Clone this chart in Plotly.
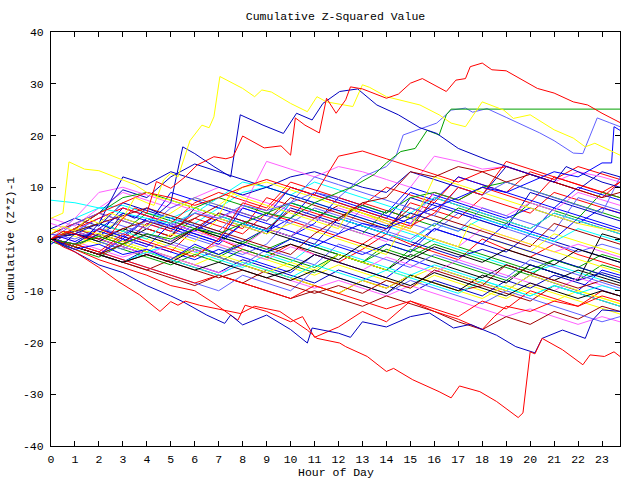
import plotly.graph_objects as go

# ---------------- data ----------------
hours = list(range(24)) + [23.75]

palette = {
    "red": "#ff0000", "dkblue": "#0000c0", "blue": "#0000ff", "green": "#00a000",
    "yellow": "#ffff00", "magenta": "#ff60ff", "cyan": "#00ffff", "dkred": "#a00000",
    "slate": "#6060ff", "black": "#000000",
}

bg_colors = (
    ["red", "dkblue", "blue", "green", "yellow", "magenta", "cyan", "dkred", "slate", "black"] * 4
    + ["red", "dkblue", "blue", "green", "cyan", "magenta", "yellow", "dkred", "slate", "red", "dkblue", "red", "dkred"]
)

bg_values = [
    [0,-1.5,-3,0.5,-1,-2.5,2,0,-2,-3.5,-1,-3,-4.5,-2,1,-1,-2.5,-4,0,-2,-3.5,-1,-3,-4.5,-5.5],
    [1,3,1.5,0,4,2.5,1,-0.5,3,1.5,6,4.5,3,1.5,0,-1.5,2,0.5,-1,-2.5,1,-0.5,-2,-3.5,-4.5],
    [0,-1,2,0.5,-1,-2.5,-4,-2,-3.5,-5,-6.5,-3,-4.5,-6,-7.5,-4,-5.5,-7,-8.5,-10,-7,-8.5,-10,-6,-7],
    [-0.5,-2,-3.5,-1,-2.5,-4,-2,-3.5,-1,-2.5,-4,-5.5,-3,-4.5,-1,-2.5,0,-1.5,-3,-4.5,-6,-4,-5.5,-7,-8],
    [2,0.5,-1,1.5,0,-1.5,-3,-1,-2.5,-4,-5.5,-7,-5,-6.5,-8,-9.5,-7,-8.5,-10,-11.5,-9,-10.5,-12,-13.5,-14.5],
    [4,2.5,6,9,7.5,6,8,10,8.5,7,5.5,4,6,4.5,3,1.5,0,-1.5,2,0.5,-1,-2.5,-1,-2.5,-3.5],
    [7.5,7,6,6.5,5,4,3,6,9,10,8.5,7,5.5,4,2.5,1,-0.5,-2,-3.5,-5,-6.5,-5,-6.5,-8,-9],
    [0,-1.5,-3,-4.5,-6,-4,-5.5,-7,-8.5,-6,-7.5,-9,-10.5,-8,-9.5,-7,-8.5,-10,-9,-10.5,-12,-9,-10.5,-12,-13],
    [0,1.5,0,-1.5,3,1.5,0,-1.5,-3,-1,4,2.5,1,6,4.5,3,1.5,5,3.5,2,0.5,-1,-2.5,-1,-2],
    [0,-1.5,1,-0.5,2,0.5,6,4.5,3,1.5,0,-1.5,-3,-4.5,-6,-3,-4.5,-6,-7.5,-5,-6.5,-8,-6,-7.5,-8.5],

    [1,3,5,3.5,2,0.5,4,2.5,1,5,3.5,2,0.5,-1,2,7,5.5,4,8,6.5,5,9,7.5,6,5],
    [0,-1.5,-3,-4.5,-2,-3.5,-5,-6.5,-4,-5.5,-7,-8.5,-6,-7.5,-9,-10.5,-8,-9.5,-11,-8,-9.5,-7,-8.5,-10,-11],
    [-1,2,0.5,4,2.5,9,7.5,6,4.5,3,1.5,0,-1.5,-3,-1,-2.5,2,0.5,-1,3,1.5,0,4,2.5,1.5],
    [0,1,-0.5,-2,-3.5,-5,-3,-4.5,-2,-3.5,-5,-6.5,-3,-4.5,-6,-2,-3.5,-5,-6.5,-8,-5,-6.5,-8,-5,-6],
    [0,-1.5,1,-0.5,-2,-3.5,-5,-3,-4.5,-6,-7.5,-9,-10.5,-8,-9.5,-7,-8.5,-10,-11.5,-9,-10.5,-12,-10,-11.5,-12.5],
    [1,-0.5,-2,-3.5,-2,-3.5,-5,-6.5,-5,-6.5,-8,-9.5,-8,-9.5,-11,-9,-10.5,-12,-13.5,-15,-13.5,-15,-16.5,-15,-16],
    [0,2,0.5,-1,-2.5,-1,-2.5,-4,-5.5,-3,-4.5,-1,-2.5,-4,-5.5,-7,-5,-6.5,-8,-9.5,-11,-9,-10.5,-12,-13],
    [0,-1.5,-3,-4.5,-6,-7.5,-9,-7,-8.5,-10,-11.5,-10,-11.5,-13,-11,-12.5,-14,-16,-17.5,-15,-16.5,-14,-15.5,-13,-14],
    [0,-1,-2.5,-4,-5.5,-7,-8.5,-10,-7,-8.5,-10,-6,-7.5,-9,-10.5,-8,-9.5,-11,-12.5,-10,-11.5,-13,-14.5,-16,-15],
    [0,1.5,0,-1.5,-3,-4.5,-2,-3.5,-5,-6.5,-8,-6,-7.5,-9,-10.5,-7,-8.5,-10,-7,-8.5,-5,-6.5,-8,1,0],

    [0,-1,-2.5,-4,-5.5,-7,-8.5,-7,-8.5,-10,-11.5,-9,-10.5,-12,-13.5,-12,-13.5,-15,-12,-13.5,-10,-11.5,-13,-10,-11],
    [2,4,2.5,7,5.5,4,2.5,1,-0.5,2,0.5,-1,4,2.5,1,-0.5,-2,-3.5,-2,-3.5,-5,-6.5,-8,-6.5,-7.5],
    [0,-1.5,-3,0,-1.5,3,1.5,5,3.5,2,0.5,3,8,6.5,5,10,8.5,7,5.5,4,6,4.5,3,6,5],
    [0,-1.5,-3,-1,-2.5,-4,-1.5,-3,-0.5,-2,0,-1.5,-3,-4.5,-2,-3.5,-1,-2.5,-4,-5.5,-7,-4,-5.5,-3,-4],
    [0,-1,0.5,-1,-2.5,-4,-2,-3.5,-5,-6.5,-4.5,-6,-3,-4.5,-6,-7.5,-5.5,-7,-8.5,-10,-7,-8.5,-10,-11.5,-12.5],
    [0,1.5,0,-1.5,-3,-1,-2.5,-1,-2.5,-4,-1.5,-3,-4.5,-6,-3.5,-5,-6.5,-4,-5.5,-7,-8.5,-10,-7.5,-9,-10],
    [0,-1.5,-3,-4.5,-2.5,-4,-5.5,-7,-4.5,-6,-7.5,-5,-6.5,-8,-6,-7.5,-9,-10.5,-8,-9.5,-11,-9,-10.5,-9,-10],
    [0,-1.5,-3,-4.5,-3,-4.5,-6,-7.5,-6,-7.5,-9,-10.5,-9,-10.5,-8,-9.5,-6,-7.5,-9,-5,-6.5,-8,-9.5,-8,-9],
    [0,1,-0.5,-2,1,-0.5,-2,-3.5,-5,-2,-3.5,-5,-1,-2.5,-4,-5.5,-3,-4.5,-6,-7.5,-4,-5.5,-7,-8.5,-9.5],
    [0,-1.5,-3,-4.5,-3,-4.5,-6,-4.5,-6,-7.5,-6,-3,-4.5,-6,-7.5,-9,-6.5,-8,-9.5,-11,-8.5,-10,-11.5,-10,-11],

    [0,2,0.5,-1,3,1.5,5,3.5,2,8,6.5,5,3.5,7,5.5,4,9,7.5,10,8.5,7,12,10.5,9,8],
    [0,-1.5,1,6,4.5,3,1.5,4,2.5,1,7,5.5,4,2.5,1,8,6.5,5,3.5,2,9,7.5,6,4.5,3.5],
    [1,-0.5,2,5,3.5,2,0.5,-1,3,1.5,4,9,7.5,6,4.5,3,7,5.5,4,2.5,1,6,4.5,3,2],
    [0,1.5,3,1.5,5,3.5,2,0.5,-1,2,0.5,4,2.5,1,5.5,4,2.5,6,4.5,3,7,5.5,4,9,8],
    [0,-1.5,0.5,-1,-2.5,1,-0.5,4,2.5,1,3,1.5,0,-1.5,-3,5,3.5,2,0.5,-1,-2.5,1,-0.5,-2,-3],
    [3,1.5,4,6,4.5,3,1.5,0,-1.5,2,0.5,4,2.5,1,-0.5,3,9,7.5,6,4.5,7,5.5,9,7.5,6.5],
    [0,1.5,3,1.5,0,4,6,4.5,3,1.5,7,5.5,4,2.5,1,-0.5,3,1.5,4,2.5,1,-0.5,2,0.5,-0.5],
    [0,-1.5,-3,-1,1,-0.5,2,5,3.5,2,5.5,4,6.5,5,3.5,2,8,6.5,5,3.5,2,5,3.5,2,1],
    [0,1.5,4,2.5,1,-0.5,3,1.5,6,4.5,3,6,4.5,3,1.5,0,3,1.5,6,4.5,3,1.5,8,6.5,5.5],
    [0,1,-0.5,2,0.5,-1,2,0.5,-1,-2.5,-1,-2.5,-4,-1,-2.5,-4,-1.5,-3,-4.5,-2,-3.5,-5,-2,-3.5,-4.5],

    [0,2,4,6,4.5,3,7,9,7.5,6,11,9.5,8,6.5,10,8.5,7,12,10.5,9,13,11.5,14,12.5,11.5],
    [0,2,5,9.5,8,12,14.5,13,11.5,10,12,13,11.5,10,9,13,11.5,10,8.5,14,12.5,11,9.5,13,12],
    [0,-1,2,0.5,4,2.5,1,-0.5,6,4.5,10,8.5,7,5.5,4,9,7.5,12,10.5,9,7.5,6,10,8.5,7.5],
    [0,2,5,8,9,7.5,6,8,6.5,5,7,5.5,4,6.5,5,8,9,7.5,10,11,9.5,8,6.5,5,4],
    [0,4,6,5,4,3,5,8,11,10,8.5,11,9.5,8,6.5,5,8,6.5,5,3.5,2,5,3.5,2,1],
    [0,4,9,10,8.5,7,5.5,4,6,15,13.5,12,14,13,11.5,10,16,15,13.5,14,12.5,11,13,12,11],
    [0,2,1,4,2.5,5,8,6.5,10,11,9.5,8,6.5,5,3.5,2,12,10.5,9,7.5,6,4.5,3,2,1.5],
    [0,1,0,2,3.5,2,4,6.5,5,3.5,8,6.5,5,3.5,2,6,4.5,3,1.5,0,-1.5,3,1.5,0,-1],
    [0,3,5,3.5,2,6,8,6.5,5,3.5,7,12,10.5,9,7.5,6,4.5,10,8.5,11,9.5,8,6.5,5,12],
    [0,-1,-2.5,1,-0.5,-2,-3.5,0,7,5.5,10,8.5,7,5.5,4,2.5,5,10,8.5,15,13.5,12,10.5,9,11],
    [0,1,3,12,10.5,13,11.5,10,8.5,10,8.5,7,5.5,4,2.5,5,3.5,2,0.5,-1,-2.5,-4,-5.5,-7,-8],
    [0,2,5,7,9,8,6.5,8,10,11.5,10,8.5,16,17,15.5,14,12.5,11,13,14,12.5,11,9.5,8,11],
    [0,1.5,3,4.5,6,4.5,3,1.5,0,-1.5,-3,1,4,7,8,13,12,14,13,11,12.5,11,9.5,8,9],
]

# prominent walks as (hour, value) pairs
yellow_peak = [(0,1),(0.5,2.5),(1,1.5),(1.5,4),(2,3),(2.5,5),(3,4),(3.5,8),(4,7),(4.3,6.5),
               (4.7,11.4),(5,12.7),(5.3,12),(5.8,19),(6.3,22),(6.6,21.5),(6.8,23.6),(7.05,31.4),(8,29.1),(8.5,27.5),
               (8.8,28.8),(9.2,28.4),(10,26.2),(10.7,24.6),(11.1,27.5),(11.5,26.5),(12.6,25.6),(13,29.8),(13.3,29.3),(14,27.5),
               (15.4,25.9),(16.2,24),(16.7,22.4),(17.3,21.7),(18,26.5),(18.9,24.9),(19.3,23.3),(20,24),(21,21.1),(21.8,19.5),
               (22.3,17.8),(22.7,18.5),(23.75,16.2)]
yellow_early = [(0,4),(0.5,5),(0.75,14.9),(1.4,13.5),(2,13.2),(2.7,12),(3.5,10.5),(4,9),(4.5,8),(5,7.5),(6,6),(7,4.5),
                (7.5,9),(8,8),(9,6.5),(10,5),(11,3.5),(12,2),(12.5,6),(13,5),(14,3),(15,1.5),(16,0),(17,-1.5),(17.5,3),
                (18,2),(19,0.5),(20,-1),(21,-2.5),(22,-4),(23,-5.5),(23.75,-6.5)]
red_top = [(0,0),(0.5,1.5),(1,1),(1.5,0),(2,2),(2.5,1),(3,4),(3.5,6),(4,5),(4.4,11.1),(5,9.8),(5.6,12),(6.1,14.3),
           (6.8,15.9),(7.3,15.5),(7.6,15.9),(8,19.9),(8.9,17.6),(9.6,18),(10,16.2),(10.2,23.4),(10.6,22),(11.2,20.5),
           (11.4,24.9),(11.5,27.2),(11.9,24.3),(12.3,26.9),(12.5,29.4),(13,29),(14,27.2),(14.5,28),(15,30.1),(15.5,31),
           (16.5,28.5),(16.9,30.7),(17.3,31),(17.5,33.3),(18,34),(18.4,32.7),(19,32.5),(19.6,31),(20.3,29.1),(21,28.2),
           (21.8,26.5),(22.4,25.9),(23,24.3),(23.75,22.5)]
blue_top = [(0,0),(0.5,-1),(1,1),(1.5,0.5),(2,3),(2.5,2),(3,5),(3.5,4),(4,6),(4.5,5),(5,7),(5.3,13.7),(5.5,17.8),
            (6,16.5),(6.8,14),(7.5,12),(7.9,24),(8.85,22),(9.7,20.4),(10.25,24.3),(10.9,23),(11.35,26.2),(12.05,28.5),
            (12.8,29),(13.6,25.9),(14.5,24),(15.4,21.5),(16.1,20.4),(17,17.5),(18.2,15.3),(19,14),(20,12.5),(21,11),
            (21.5,14),(22,13),(23,11),(23.75,10)]
red_bottom = [(0,0),(0.5,-1.5),(1,-2.5),(1.5,-4),(2,-5.5),(2.8,-8.2),(3.7,-10.8),(4.55,-14),(5,-12.1),(5.3,-12.8),
              (5.6,-12),(6.2,-12.8),(7,-13.5),(7.9,-14.4),(8.5,-13),(9.55,-14),(10.7,-17.6),(11.1,-19.2),(12.05,-20.1),
              (12.3,-20.8),(13.2,-22.7),(14,-25.6),(14.3,-25),(15.1,-27.2),(16.2,-29.5),(16.7,-30.7),(17.05,-28.4),
              (17.9,-29.5),(18.6,-31.4),(19.5,-34.5),(19.7,-33.6),(20,-21.8),(20.2,-22.2),(20.5,-19.2),(21.35,-21.4),
              (22.2,-24.3),(22.5,-22.4),(23.1,-22.7),(23.5,-21.8),(23.75,-22.7)]
green_flat = [(0,0),(1,-1),(2,0.5),(3,-1),(4,1),(5,0),(6,2),(7,1),(8,3),(9,5),(10,4),(11,7),(12,9),(12.6,10.1),
              (13.5,12.5),(14,14.7),(14.6,16.9),(15.2,17.5),(15.7,21),(16.2,20.1),(16.5,24),(16.7,25.1),(23.75,25.1)]
slate_high = [(0,1),(1,0),(2,2),(3,1),(4,3.5),(5,2.5),(6,5),(7,4),(8,6.5),(9,5.5),(10,7),(11,9),(12,8),(13,12),
              (14,14),(14.4,16),(14.7,20.1),(15.5,21.5),(16.1,22.4),(16.7,24.9),(17.3,25.3),(17.6,24.5),(18.2,25.2),
              (19,23.5),(20.4,20.5),(21,19),(21.8,16.6),(22.2,16.5),(22.8,23.4),(23.3,22.5),(23.75,21.7)]
blue_late = [(0,0),(1,-2),(2,-1),(3,-3),(4,-2),(5,-4),(6,-1),(7,-3),(8,-1),(9,-2.5),(10,0),(11,-1.5),(12,1),(13,3),
             (14,2),(15,4),(16,6),(17,8),(18,10),(19,9),(20,11),(21,13),(22,12),(23,14.7),(23.4,14.7),(23.5,21.7),(23.75,21)]
dkblue_low = [(0,0),(1,-2.5),(2,-5),(3,-6.5),(4,-9),(5,-11),(5.5,-12.1),(6.5,-14.7),(7.25,-16.3),(7.5,-14.7),(8,-16.6),
              (9,-14.7),(10,-17.5),(10.7,-20.1),(10.9,-17.2),(12,-18.2),(12.5,-19),(13,-16),(14,-17),(15,-15),(15.8,-14.3),
              (16.8,-17.2),(17.5,-16.5),(18.6,-18.6),(19.4,-20.8),(20.2,-22),(20.5,-19.2),(21.35,-17.6),(22.3,-19.2),
              (22.6,-15.7),(23,-13.7),(23.75,-14)]
red_low = [(0,0),(1,-2),(2,-4),(3,-5.5),(4,-7),(5,-9),(6,-10),(6.8,-12.4),(7.5,-14.7),(7.8,-15.7),(8.1,-12.8),(9,-14),
           (10,-16),(10.5,-15),(11,-19),(11.5,-18),(12,-17),(13,-14),(14,-16),(15,-12),(16,-14),(17,-15.5),(18,-17.5),
           (18.5,-15),(19,-13),(20,-14),(21,-12),(22,-13),(23,-11),(23.75,-12)]

highlights = [
    (yellow_early, "yellow"), (red_low, "red"), (dkblue_low, "dkblue"), (blue_late, "blue"),
    (slate_high, "slate"), (green_flat, "green"), (blue_top, "dkblue"), (red_bottom, "red"),
    (yellow_peak, "yellow"), (red_top, "red"),
]

x_ticks = list(range(24))
y_ticks = list(range(-40, 41, 10))

# ---------------- figure ----------------
fig = go.Figure()
for vals, cname in zip(bg_values, bg_colors):
    fig.add_trace(go.Scatter(x=hours, y=vals, mode="lines",
                             line=dict(color=palette[cname], width=1), hoverinfo="skip"))
for pts, cname in highlights:
    fig.add_trace(go.Scatter(x=[p[0] for p in pts], y=[p[1] for p in pts], mode="lines",
                             line=dict(color=palette[cname], width=1), hoverinfo="skip"))

font = dict(family="Liberation Mono, DejaVu Sans Mono, monospace", size=11.5, color="black")
fig.update_layout(
    width=640, height=480,
    margin=dict(l=51, r=20, t=32, b=34, autoexpand=False),
    paper_bgcolor="white", plot_bgcolor="white",
    showlegend=False,
    font=font,
    title=dict(text="Cumulative Z-Squared Value", x=0.5, xref="paper", xanchor="center",
               y=1 - 16 / 480, yref="container", yanchor="middle", font=font),
    annotations=[
        dict(text="Hour of Day", xref="paper", x=0.5, xanchor="center",
             yref="paper", y=-26 / 414, yanchor="middle", showarrow=False, font=font),
        dict(text="Cumulative (Z*Z)-1", xref="paper", x=-41 / 569, xanchor="center",
             yref="paper", y=0.5, yanchor="middle", textangle=-90, showarrow=False, font=font),
    ],
)
fig.update_xaxes(range=[0, 23.75], tickvals=x_ticks, ticktext=[str(v) for v in x_ticks],
                 showgrid=False, zeroline=False, showline=True, linecolor="black", linewidth=1,
                 mirror="ticks", ticks="inside", ticklen=5, tickcolor="black", automargin=False,
                 ticklabelstandoff=2)
fig.update_yaxes(range=[-40, 40], tickvals=y_ticks, ticktext=[str(v) for v in y_ticks],
                 showgrid=False, zeroline=False, showline=True, linecolor="black", linewidth=1,
                 mirror="ticks", ticks="inside", ticklen=5, tickcolor="black", automargin=False,
                 ticklabelstandoff=4)

fig.write_html("out.html")
